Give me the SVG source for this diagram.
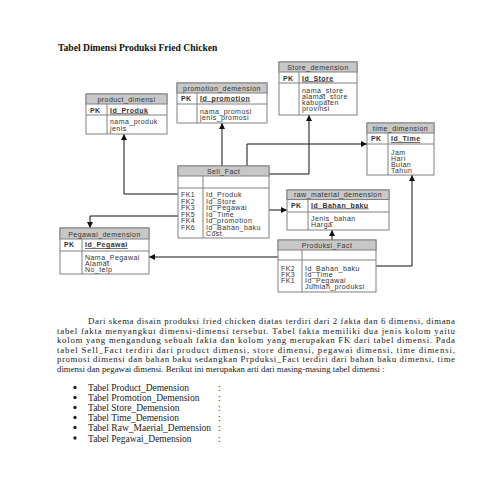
<svg xmlns="http://www.w3.org/2000/svg" width="495" height="495" viewBox="0 0 495 495">
<style>
.bg{fill:#fff}
.box{fill:#fff;stroke:#808080;stroke-width:1}
.hd{fill:#c8c8c8;stroke:#808080;stroke-width:1}
.ln{stroke:#808080;stroke-width:1;fill:none}
.t{font-family:"Liberation Sans",Arial,sans-serif;font-size:7px;fill:#333;letter-spacing:0.45px}
.c{text-anchor:middle}
.b{font-weight:bold}
.u{text-decoration:underline}
.con{stroke:#111;stroke-width:1;fill:none;marker-end:url(#arr)}
.p{font-family:"Liberation Serif","Times New Roman",serif;font-size:8.8px;fill:#222}
.li{font-family:"Liberation Serif","Times New Roman",serif;font-size:9.5px;fill:#222}
.ttl{font-family:"Liberation Serif","Times New Roman",serif;font-size:9.6px;font-weight:bold;fill:#111}
</style>
<defs>
<marker id="arr" viewBox="0 0 10 10" refX="10" refY="5" markerWidth="7" markerHeight="6" markerUnits="userSpaceOnUse" orient="auto">
<path d="M0,0 L10,5 L0,10 z" fill="#111"/>
</marker>
</defs>
<rect class="bg" x="0" y="0" width="495" height="495"/>
<text class="ttl" x="58" y="51">Tabel Dimensi Produksi Fried Chicken</text>

<g id="connectors">
<path class="con" d="M178,194 H124 V134"/>
<path class="con" d="M178,216 H90 V228"/>
<path class="con" d="M222,166 V123"/>
<path class="con" d="M269,174 H309 V115"/>
<path class="con" d="M247,166 V144 H367"/>
<path class="con" d="M269,210 H287"/>
<path class="con" d="M332,240 V230"/>
<path class="con" d="M376,266 H412 V175"/>
<path class="con" d="M278,257 H149"/>
</g>

<g id="product_dimensi">
<rect class="box" x="86" y="94" width="81" height="40"/>
<rect class="hd" x="86" y="94" width="81" height="10"/>
<line class="ln" x1="86" y1="115" x2="167" y2="115"/>
<line class="ln" x1="107" y1="104" x2="107" y2="134"/>
<text class="t c" x="126.5" y="101.5">product_dimensi</text>
<text class="t b" x="90" y="112.5">PK</text>
<text class="t b u" x="110" y="112.5">Id_Produk</text>
<text class="t" x="110" y="124">nama_produk</text>
<text class="t" x="110" y="130.5">jenis</text>
</g>

<g id="promotion_demension">
<rect class="box" x="177" y="83" width="90" height="40"/>
<rect class="hd" x="177" y="83" width="90" height="10"/>
<line class="ln" x1="177" y1="104" x2="267" y2="104"/>
<line class="ln" x1="197" y1="93" x2="197" y2="123"/>
<text class="t c" x="222" y="90.5">promotion_demension</text>
<text class="t b" x="181" y="100.5">PK</text>
<text class="t b u" x="200" y="100.5">Id_promotion</text>
<text class="t" x="200" y="113.5">nama_promosi</text>
<text class="t" x="200" y="119.5">jenis_promosi</text>
</g>

<g id="Store_demension">
<rect class="box" x="279" y="62" width="78" height="53"/>
<rect class="hd" x="279" y="62" width="78" height="10"/>
<line class="ln" x1="279" y1="83" x2="357" y2="83"/>
<line class="ln" x1="299" y1="72" x2="299" y2="115"/>
<text class="t c" x="318" y="70">Store_demension</text>
<text class="t b" x="283" y="80.5">PK</text>
<text class="t b u" x="302" y="80.5">Id_Store</text>
<text class="t" x="302" y="92.5">nama_store</text>
<text class="t" x="302" y="99">alamat_store</text>
<text class="t" x="302" y="105">kabupaten</text>
<text class="t" x="302" y="111">provinsi</text>
</g>

<g id="time_dimension">
<rect class="box" x="367" y="123" width="67" height="52"/>
<rect class="hd" x="367" y="123" width="67" height="10"/>
<line class="ln" x1="367" y1="144" x2="434" y2="144"/>
<line class="ln" x1="388" y1="133" x2="388" y2="175"/>
<text class="t c" x="400.5" y="130.5">time_dimension</text>
<text class="t b" x="371" y="141">PK</text>
<text class="t b u" x="391" y="141">Id_Time</text>
<text class="t" x="391" y="155">Jam</text>
<text class="t" x="391" y="161">Hari</text>
<text class="t" x="391" y="167">Bulan</text>
<text class="t" x="391" y="173">Tahun</text>
</g>

<g id="Sell_Fact">
<rect class="box" x="178" y="166" width="91" height="72"/>
<rect class="hd" x="178" y="166" width="91" height="10"/>
<line class="ln" x1="178" y1="188" x2="269" y2="188"/>
<line class="ln" x1="203" y1="176" x2="203" y2="238"/>
<text class="t c" x="223.5" y="173.5">Sell_Fact</text>
<text class="t" x="181" y="197">FK1</text>
<text class="t" x="181" y="203.5">FK2</text>
<text class="t" x="181" y="210">FK3</text>
<text class="t" x="181" y="216.5">FK5</text>
<text class="t" x="181" y="223">FK4</text>
<text class="t" x="181" y="229.5">FK6</text>
<text class="t" x="206" y="197">Id_Produk</text>
<text class="t" x="206" y="203.5">Id_Store</text>
<text class="t" x="206" y="210">Id_Pegawai</text>
<text class="t" x="206" y="216.5">Id_Time</text>
<text class="t" x="206" y="223">Id_promotion</text>
<text class="t" x="206" y="229.5">Id_Bahan_baku</text>
<text class="t" x="206" y="236">Cost</text>
</g>

<g id="raw_material_demension">
<rect class="box" x="287" y="190" width="102" height="40"/>
<rect class="hd" x="287" y="190" width="102" height="9.5"/>
<line class="ln" x1="287" y1="212" x2="389" y2="212"/>
<line class="ln" x1="308" y1="199.5" x2="308" y2="230"/>
<text class="t c" x="338" y="197">raw_material_demension</text>
<text class="t b" x="291" y="207.5">PK</text>
<text class="t b u" x="311" y="207.5">Id_Bahan_baku</text>
<text class="t" x="311" y="221">Jenis_bahan</text>
<text class="t" x="311" y="227">Harga</text>
</g>

<g id="Produksi_Fact">
<rect class="box" x="278" y="240" width="98" height="52"/>
<rect class="hd" x="278" y="240" width="98" height="10"/>
<line class="ln" x1="278" y1="260" x2="376" y2="260"/>
<line class="ln" x1="302" y1="250" x2="302" y2="292"/>
<text class="t c" x="327" y="247.5">Produksi_Fact</text>
<text class="t" x="281" y="270.5">FK2</text>
<text class="t" x="281" y="276.7">FK3</text>
<text class="t" x="281" y="283">FK1</text>
<text class="t" x="305" y="270.5">Id_Bahan_baku</text>
<text class="t" x="305" y="276.7">Id_Time</text>
<text class="t" x="305" y="283">Id_Pegawai</text>
<text class="t" x="305" y="289.2">Jumlah_produksi</text>
</g>

<g id="Pegawai_demension">
<rect class="box" x="60" y="228" width="89" height="46"/>
<rect class="hd" x="60" y="228" width="89" height="11"/>
<line class="ln" x1="60" y1="251" x2="149" y2="251"/>
<line class="ln" x1="82" y1="239" x2="82" y2="274"/>
<text class="t c" x="104.5" y="236.5">Pegawai_demension</text>
<text class="t b" x="64" y="247">PK</text>
<text class="t b u" x="85" y="247">Id_Pegawai</text>
<text class="t" x="85" y="260">Nama_Pegawai</text>
<text class="t" x="85" y="266">Alamat</text>
<text class="t" x="85" y="272">No_telp</text>
</g>

<text class="p" x="88" y="324" textLength="367" lengthAdjust="spacing">Dari skema disain produksi fried chicken diatas terdiri dari 2 fakta dan 6 dimensi, dimana</text>
<text class="p" x="57" y="333.6" textLength="398" lengthAdjust="spacing">tabel fakta menyangkut dimensi-dimensi tersebut. Tabel fakta memiliki dua jenis kolom yaitu</text>
<text class="p" x="57" y="343.2" textLength="398" lengthAdjust="spacing">kolom yang mengandung sebuah fakta dan kolom yang merupakan FK dari tabel dimensi. Pada</text>
<text class="p" x="57" y="352.8" textLength="398" lengthAdjust="spacing">tabel Sell_Fact terdiri dari product dimensi, store dimensi, pegawai dimensi, time dimensi,</text>
<text class="p" x="57" y="362.4" textLength="398" lengthAdjust="spacing">promosi dimensi dan bahan baku sedangkan Prpduksi_Fact terdiri dari bahan baku dimensi, time</text>
<text class="p" x="57" y="372">dimensi dan pegawai dimensi. Berikut ini merupakan arti dari masing-masing tabel dimensi :</text>

<g class="li">
<circle cx="75" cy="387.5" r="1.7" fill="#222"/>
<circle cx="75" cy="397.5" r="1.7" fill="#222"/>
<circle cx="75" cy="407.5" r="1.7" fill="#222"/>
<circle cx="75" cy="417.5" r="1.7" fill="#222"/>
<circle cx="75" cy="427.5" r="1.7" fill="#222"/>
<circle cx="75" cy="438" r="1.7" fill="#222"/>
<text x="88" y="391">Tabel Product_Demension</text>
<text x="88" y="401">Tabel Promotion_Demension</text>
<text x="88" y="411">Tabel Store_Demension</text>
<text x="88" y="421">Tabel Time_Demension</text>
<text x="88" y="431">Tabel Raw_Maerial_Demension</text>
<text x="88" y="441.5">Tabel Pegawai_Demension</text>
<text x="218" y="391">:</text>
<text x="218" y="401">:</text>
<text x="218" y="411">:</text>
<text x="218" y="421">:</text>
<text x="218" y="431">:</text>
<text x="218" y="441.5">:</text>
</g>
</svg>
